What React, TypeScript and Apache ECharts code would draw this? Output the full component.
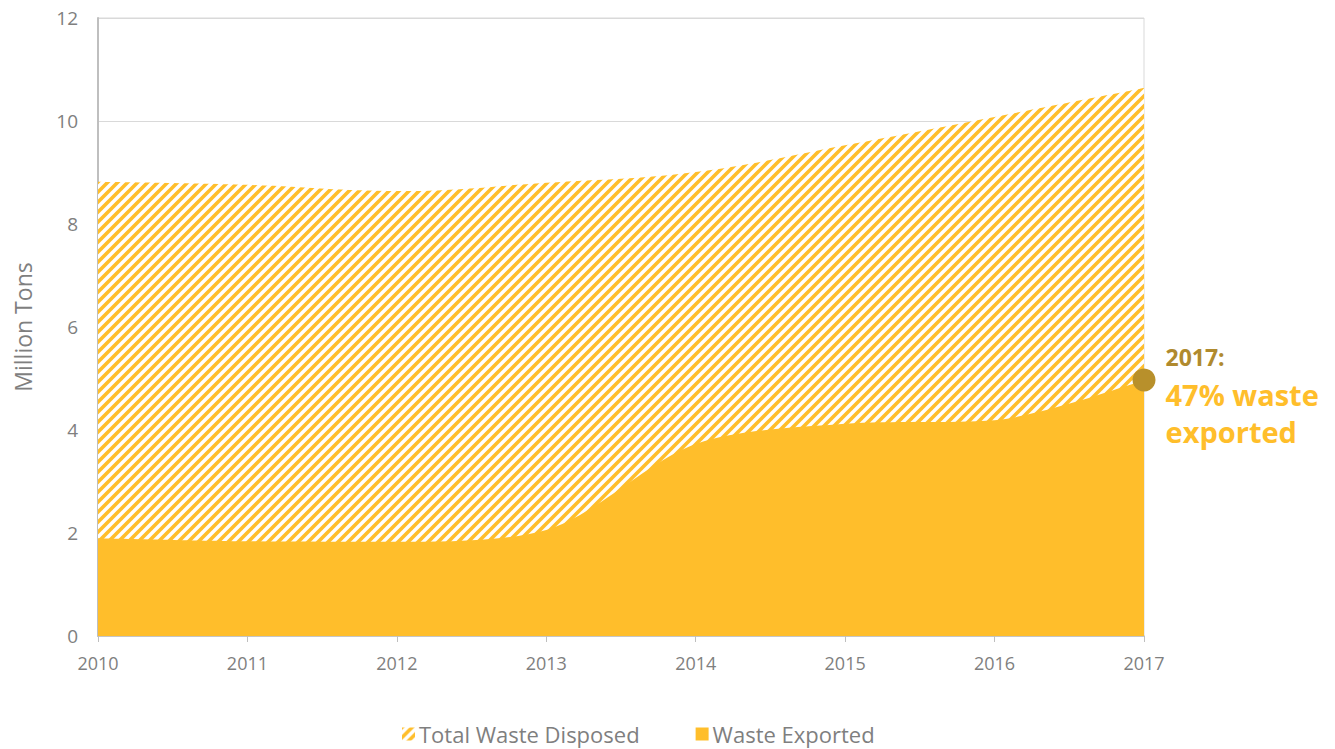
import React, { useEffect, useRef } from "react";
import * as echarts from "echarts";

const years = ["2010", "2011", "2012", "2013", "2014", "2015", "2016", "2017"];
const totalWaste = [8.82, 8.76, 8.64, 8.8, 9.01, 9.53, 10.08, 10.64];
const wasteExported = [1.9, 1.84, 1.83, 2.06, 3.73, 4.12, 4.19, 4.97];
const yTicks = [0, 2, 4, 6, 8, 10, 12];

const ORANGE = "#FFBE2B";
const GOLD = "#B8902B";
const GRAY_TEXT = "#7F7F7F";
const FONT = "'Open Sans', sans-serif";

function stripeTile(): string {
  const svg =
    `<svg xmlns="http://www.w3.org/2000/svg" width="10" height="10">` +
    `<rect width="10" height="10" fill="#ffffff"/>` +
    `<g stroke="${ORANGE}" stroke-width="3.6" stroke-linecap="square">` +
    `<line x1="-5" y1="5" x2="5" y2="-5"/>` +
    `<line x1="0" y1="10" x2="10" y2="0"/>` +
    `<line x1="5" y1="15" x2="15" y2="5"/>` +
    `</g></svg>`;
  return "data:image/svg+xml;base64," + btoa(svg);
}

export default function App() {
  const ref = useRef<HTMLDivElement>(null);
  useEffect(() => {
    if (!ref.current) return;
    const chart = echarts.init(ref.current, null, { renderer: "svg" });
    const pattern: any = { image: stripeTile(), repeat: "repeat", imageWidth: 10, imageHeight: 10 };
    const last = years.length - 1;
    chart.setOption({
      animation: false,
      textStyle: { fontFamily: FONT },
      grid: { left: 98, right: 191, top: 18, bottom: 113, show: true, borderColor: "#D9D9D9", borderWidth: 1 },
      legend: {
        left: 397,
        top: 718,
        itemWidth: 13,
        itemHeight: 13,
        itemGap: 56,
        textStyle: { color: GRAY_TEXT, fontSize: 22, fontFamily: FONT, padding: [0, 0, 0, -1] },
        data: [
          { name: "Total Waste Disposed", icon: "rect", itemStyle: { color: pattern } },
          { name: "Waste Exported", icon: "rect", itemStyle: { color: ORANGE } },
        ],
      },
      xAxis: {
        type: "category",
        data: years,
        boundaryGap: false,
        axisLine: { lineStyle: { color: "#BFBFBF", width: 1.5 } },
        axisTick: { show: true, length: 6, lineStyle: { color: "#BFBFBF" } },
        axisLabel: { color: GRAY_TEXT, fontSize: 18, margin: 18, fontFamily: FONT },
      },
      yAxis: {
        type: "value",
        min: yTicks[0],
        max: yTicks[yTicks.length - 1],
        interval: 2,
        name: "Million Tons",
        nameLocation: "middle",
        nameGap: 64,
        nameTextStyle: { color: GRAY_TEXT, fontSize: 23, fontFamily: FONT },
        axisLine: { show: true, lineStyle: { color: "#BFBFBF", width: 2 } },
        axisTick: { show: false },
        axisLabel: { color: GRAY_TEXT, fontSize: 19, margin: 20, fontFamily: FONT },
        splitLine: { lineStyle: { color: "#D9D9D9" } },
      },
      series: [
        {
          name: "Total Waste Disposed",
          type: "line",
          data: totalWaste,
          smooth: 0.4,
          symbol: "none",
          lineStyle: { width: 0 },
          itemStyle: { color: ORANGE },
          areaStyle: { color: pattern, opacity: 1 },
          z: 2,
        },
        {
          name: "Waste Exported",
          type: "line",
          data: wasteExported,
          smooth: 0.3,
          symbol: "none",
          lineStyle: { width: 0 },
          itemStyle: { color: ORANGE },
          areaStyle: { color: ORANGE, opacity: 1 },
          z: 3,
          markPoint: {
            symbol: "circle",
            symbolSize: 23,
            itemStyle: { color: GOLD },
            data: [{ coord: [years[last], wasteExported[last]] }],
            label: {
              show: true,
              position: "right",
              distance: 10,
              offset: [0, 14],
              formatter: "{a|2017:}\n{b|47% waste}\n{b|exported}",
              rich: {
                a: { color: "#B08A2E", fontSize: 23, fontWeight: "bold", fontFamily: FONT, lineHeight: 37 },
                b: { color: ORANGE, fontSize: 29, fontWeight: "bold", fontFamily: FONT, lineHeight: 37 },
              },
            },
          },
        },
      ],
    });
    return () => chart.dispose();
  }, []);
  return <div ref={ref} style={{ width: 1335, height: 749, position: "absolute", left: 0, top: 0 }} />;
}
